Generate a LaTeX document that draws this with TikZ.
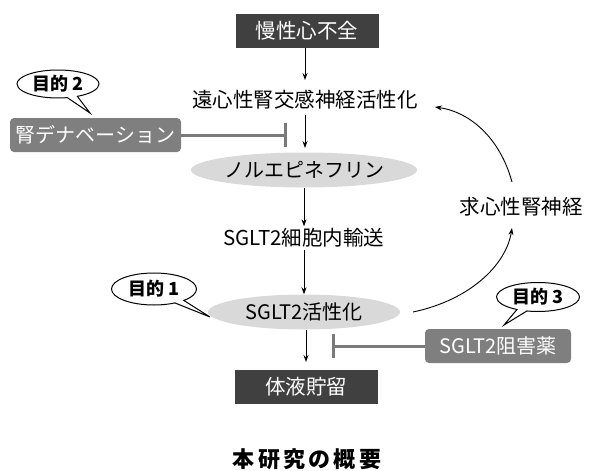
\documentclass[tikz,border=0pt]{standalone}
\usepackage{fontspec}
\setmainfont{Noto Sans CJK JP}
\usetikzlibrary{arrows.meta,shapes.geometric,shapes.callouts}
\definecolor{darkgray}{HTML}{404040}
\definecolor{midgray}{HTML}{7F7F7F}
\definecolor{lightgray}{HTML}{D9D9D9}
\definecolor{inhgray}{HTML}{7A7A7A}
\tikzset{
  darkbox/.style={fill=darkgray, text=white, minimum width=143pt, minimum height=34pt, inner sep=0pt, font=\fontsize{20.5}{24}\selectfont},
  graybox/.style={fill=midgray, text=white, rounded corners=4pt, minimum height=34pt, inner sep=0pt, font=\fontsize{20}{24}\selectfont},
  grayell/.style={ellipse, fill=lightgray, minimum width=192pt, minimum height=35pt, inner sep=0pt, font=\fontsize{20}{24}\selectfont},
  plain/.style={inner sep=2pt, font=\fontsize{20.5}{24}\selectfont},
  bubble/.style={ellipse callout, draw=black, line width=1pt, fill=white, inner sep=0pt, font=\bfseries\fontsize{18}{21}\selectfont},
  flow/.style={-{Stealth[length=7pt,width=5pt]}, line width=0.9pt},
  inhib/.style={-{Bar[width=24pt,line width=3pt]}, draw=inhgray, line width=3pt},
}
\begin{document}
\begin{tikzpicture}[x=1pt,y=-1pt]
\useasboundingbox (0,0) rectangle (592,471);
\node[darkbox] (chf) at (307,31) {慢性心不全};
\node[plain] (eff) at (305,100) {遠心性腎交感神経活性化};
\node[grayell] (ne) at (304,170) {ノルエピネフリン};
\node[plain] (trans) at (304,238) {SGLT2細胞内輸送};
\node[grayell] (act) at (304,312) {SGLT2活性化};
\node[darkbox] (fluid) at (306,387) {体液貯留};
\node[plain] (aff) at (521,207) {求心性腎神経};
\node[graybox, minimum width=171pt] (rdn) at (95.5,135) {腎デナベーション};
\node[graybox, minimum width=146pt] (inhd) at (498,346) {SGLT2阻害薬};
\node[bubble, minimum width=82pt, minimum height=28pt, callout absolute pointer={(90,113)}] (p2) at (58,84) {目的 2};
\node[bubble, minimum width=85pt, minimum height=32pt, callout absolute pointer={(210,317)}] (p1) at (154,289) {目的 1};
\node[bubble, minimum width=83pt, minimum height=29pt, callout absolute pointer={(504,325)}] (p3) at (538,297) {目的 3};
\node[inner sep=0pt, font=\bfseries\fontsize{22}{24}\selectfont\addfontfeature{LetterSpace=15}] (title) at (307,459) {本研究の概要};

\coordinate (c1) at (305,48);
\coordinate (c2) at (305,80);
\coordinate (c3) at (305,115);
\coordinate (c4) at (305,148);
\coordinate (c5) at (306,330);
\coordinate (c6) at (306,362);
\coordinate (b1) at (287,135);
\coordinate (b2) at (332,346);
\coordinate (a1) at (413,312);
\coordinate (a2) at (512,228);
\coordinate (a3) at (512,182);
\coordinate (a4) at (435,107);

\draw[flow] (c1) -- (c2);
\draw[flow] (c3) -- (c4);
\draw[flow] (ne.south) -- (trans.north);
\draw[flow] (trans.south) -- (act.north);
\draw[flow] (c5) -- (c6);
\draw[inhib] (rdn.east) -- (b1);
\draw[inhib] (inhd.west) -- (b2);
\draw[flow] (a1) .. controls (470,300) and (506,265) .. (a2);
\draw[flow] (a3) .. controls (500,138) and (470,112) .. (a4);
\end{tikzpicture}
\end{document}
